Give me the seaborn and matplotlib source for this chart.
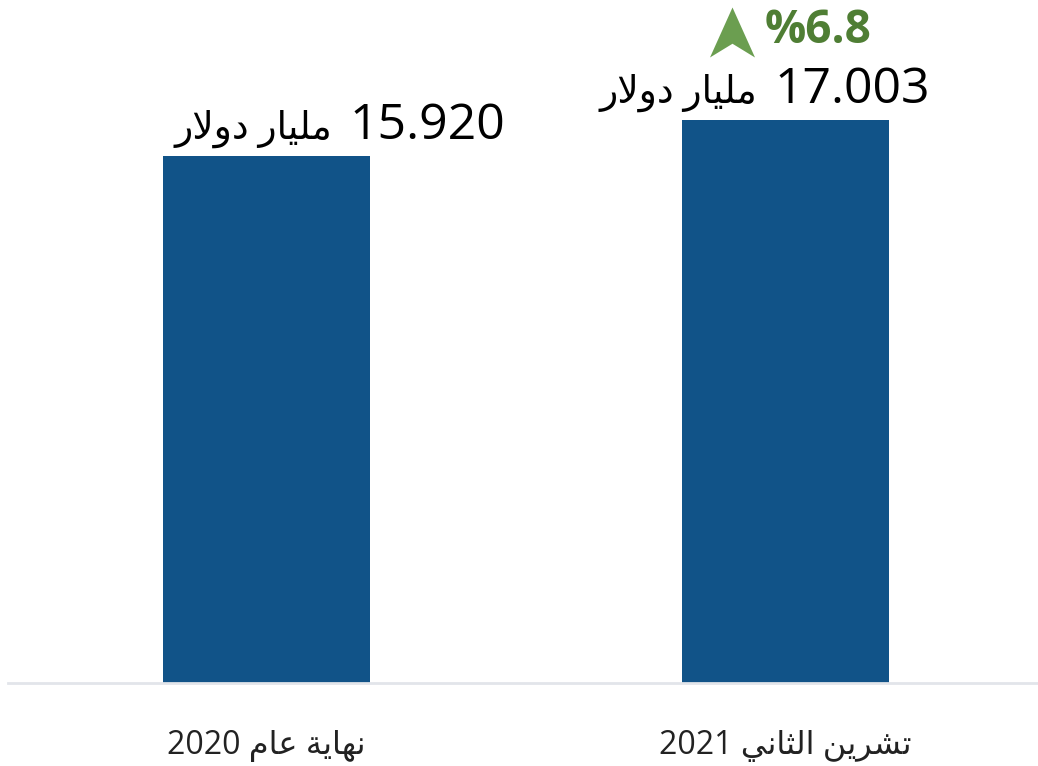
# Bar chart: Iraqi reserves end 2020 vs November 2021 (Arabic labels)

import matplotlib
matplotlib.use("Agg")
import matplotlib.pyplot as plt
import matplotlib.transforms as mtransforms
import seaborn as sns

categories = ["نهاية عام 2020", "تشرين الثاني 2021"]
values = [15.920, 17.003]
unit = "مليار دولار"
pct_change = 6.8

# matplotlib has no Arabic shaping, so pick presentation forms by hand
AR_FORMS = {
    "ا": "\ufe8d\ufe8e", "د": "\ufea9\ufeaa", "ر": "\ufead\ufeae",
    "و": "\ufeed\ufeee", "ة": "\ufe93\ufe94", "لا": "\ufefb\ufefc",
    "ت": "\ufe95\ufe96\ufe97\ufe98", "ث": "\ufe99\ufe9a\ufe9b\ufe9c",
    "ش": "\ufeb5\ufeb6\ufeb7\ufeb8", "ع": "\ufec9\ufeca\ufecb\ufecc",
    "ل": "\ufedd\ufede\ufedf\ufee0", "م": "\ufee1\ufee2\ufee3\ufee4",
    "ن": "\ufee5\ufee6\ufee7\ufee8", "ه": "\ufee9\ufeea\ufeeb\ufeec",
    "ي": "\ufef1\ufef2\ufef3\ufef4",
}


def shape(word):
    letters = []
    i = 0
    while i < len(word):
        if word[i:i + 2] == "لا":
            letters.append("لا")
            i += 2
        else:
            letters.append(word[i])
            i += 1
    out = []
    for k, ch in enumerate(letters):
        forms = AR_FORMS[ch]
        prev = k > 0 and len(AR_FORMS[letters[k - 1]]) == 4
        nxt = k < len(letters) - 1 and len(forms) == 4
        out.append(forms[(1 if prev else 0) + (2 if nxt else 0)])
    return "".join(reversed(out))


def rtl(text):
    tokens = [shape(t) if t[0] in AR_FORMS else t for t in text.split(" ")]
    return " ".join(reversed(tokens))


sns.set_theme(style="white")
plt.rcParams["font.family"] = ["Open Sans", "DejaVu Sans"]

bar_color = "#115388"
fig = plt.figure(figsize=(10.38, 7.66), dpi=100)
ax = fig.add_axes([8 / 1038, 83 / 766, 1030 / 1038, 683 / 766])

sns.barplot(x=[rtl(c) for c in categories], y=values, color=bar_color,
            saturation=1, width=0.4, linewidth=0, ax=ax)

ax.set_xlim(-0.498, 1.4865)
ax.set_ylim(0, 20.63)
ax.set_xlabel("")
ax.set_ylabel("")
ax.set_yticks([])
for side in ["left", "right", "top"]:
    ax.spines[side].set_visible(False)
ax.spines["bottom"].set_color("#e2e5ea")
ax.spines["bottom"].set_linewidth(2)
ax.tick_params(axis="x", length=0, pad=33, labelsize=23, labelcolor="#222222")

# value labels: number on the right, unit on the left
num_offsets = [83, -11]
unit_offsets = [66, -28]
for i, v in enumerate(values):
    ax.annotate(f"{v:.3f}", xy=(i, v), xytext=(num_offsets[i], 17),
                textcoords="offset pixels", ha="left", va="baseline",
                fontsize=36, color="black")
    ax.annotate(rtl(unit), xy=(i, v), xytext=(unit_offsets[i], 17),
                textcoords="offset pixels", ha="right", va="baseline",
                fontsize=27, color="black")

# growth marker over the second bar
arrow = [(0, 1), (-0.9, -1), (0, -0.45), (0.9, -1), (0, 1)]
tr = mtransforms.offset_copy(ax.transData, fig=fig, x=-53, y=88, units="dots")
ax.plot([1], [values[1]], marker=arrow, markersize=36, color="#6b9e50",
        markeredgewidth=0, transform=tr, clip_on=False)
ax.annotate(f"%{pct_change}", xy=(1, values[1]), xytext=(-21, 77),
            textcoords="offset pixels", ha="left", va="baseline",
            fontsize=33, fontweight="bold", color="#4f7e34")

fig.savefig("out.png", dpi=100)
